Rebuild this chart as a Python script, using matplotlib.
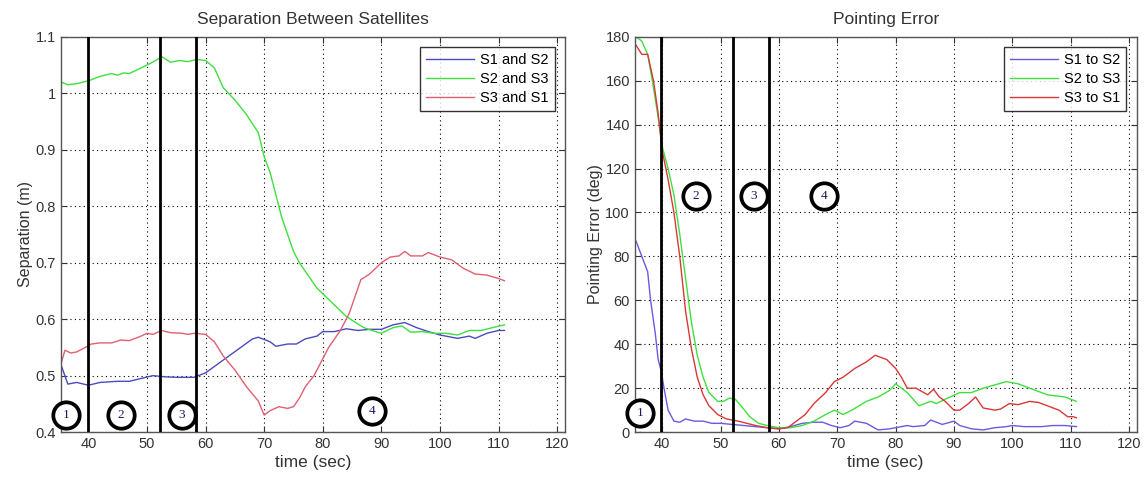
import matplotlib
matplotlib.use("Agg")
import matplotlib.pyplot as plt
import numpy as np

plt.rcParams['font.family'] = ['Liberation Sans', 'DejaVu Sans']

# ---- Separation between satellites (m) ----
sep_t12 = [35.3, 36.5, 38, 40, 42, 45, 47, 49, 51, 53, 55, 58, 60, 62, 64, 66, 68, 69, 71, 72,
           74, 75.5, 77, 79, 80, 82, 84, 86, 88, 90, 92, 94, 96, 98, 100, 103, 105, 106, 108, 110, 111]
sep_12 = [0.52, 0.485, 0.488, 0.483, 0.488, 0.49, 0.49, 0.495, 0.50, 0.498, 0.497, 0.497, 0.505,
          0.52, 0.535, 0.55, 0.565, 0.568, 0.56, 0.552, 0.556, 0.556, 0.565, 0.57, 0.578, 0.578,
          0.583, 0.58, 0.582, 0.582, 0.59, 0.594, 0.585, 0.578, 0.572, 0.566, 0.57, 0.566, 0.575,
          0.58, 0.58]

sep_t23 = [35.3, 36.5, 38, 40, 42, 44, 45, 46, 47, 48, 50, 51.5, 52.5, 54, 55.5, 57, 58.5, 60,
           61.5, 63, 65, 67, 69, 70, 71, 72, 73, 74, 75, 76, 77, 78, 79, 80, 82, 84, 85, 87, 89,
           90, 92, 93.5, 95, 97, 99, 101, 103, 105, 107, 109, 111]
sep_23 = [1.02, 1.015, 1.017, 1.022, 1.03, 1.035, 1.032, 1.036, 1.035, 1.04, 1.05, 1.058, 1.065,
          1.055, 1.058, 1.056, 1.06, 1.058, 1.045, 1.01, 0.988, 0.962, 0.93, 0.888, 0.86, 0.82,
          0.78, 0.75, 0.72, 0.70, 0.685, 0.67, 0.655, 0.645, 0.625, 0.605, 0.598, 0.585, 0.578,
          0.575, 0.585, 0.588, 0.577, 0.578, 0.575, 0.575, 0.572, 0.58, 0.58, 0.585, 0.59]

sep_t31 = [35.3, 36, 37, 38, 39.5, 40.5, 42, 44, 45.5, 47, 49, 50, 51, 52.5, 54, 56, 57, 58, 60,
           61.5, 63, 65, 67, 69, 70, 71, 72.5, 74, 75, 76, 77, 78.5, 80, 81, 83, 84.5, 85.5, 86.5,
           88, 89, 90, 91.5, 93, 94, 95, 97, 98, 100, 102, 104, 106, 108, 110, 111]
sep_31 = [0.52, 0.545, 0.54, 0.542, 0.55, 0.556, 0.558, 0.558, 0.563, 0.562, 0.57, 0.575, 0.573,
          0.58, 0.576, 0.575, 0.573, 0.575, 0.573, 0.56, 0.535, 0.51, 0.48, 0.455, 0.43, 0.438,
          0.445, 0.442, 0.445, 0.46, 0.48, 0.50, 0.53, 0.55, 0.58, 0.61, 0.64, 0.67, 0.68, 0.69,
          0.70, 0.71, 0.712, 0.72, 0.712, 0.712, 0.718, 0.71, 0.705, 0.69, 0.68, 0.678, 0.672,
          0.668]

# ---- Pointing error (deg) ----
pe_t12 = [35.5, 36.5, 37.5, 38, 38.8, 39.3, 39.8, 40.3, 41, 42, 43, 44, 45.5, 47, 48.5, 50, 52,
          54, 56, 58, 60, 62, 64, 66, 67.5, 69, 70.5, 72, 73, 75, 77, 79, 81, 82, 83, 85, 86, 88,
          90, 91, 93, 95, 97, 99, 100, 102, 105, 107, 109, 111]
pe_12 = [87, 80, 73, 60, 45, 33, 28, 20, 10, 5, 4.5, 6, 5, 5, 4, 4, 3.5, 3, 2.5, 2, 1.5, 2.5, 4,
         4.5, 4.5, 3, 2, 3, 5, 4, 1, 1.5, 2.5, 3, 2.5, 3, 5.5, 3.5, 5, 3, 1.5, 1, 2, 2.5, 3, 2.5,
         2.5, 3, 3, 2.5]

pe_t23 = [35.5, 36.5, 37.5, 38.3, 39.2, 40, 41, 42, 43, 44, 45, 46, 47, 48, 49.5, 50.5, 51.5,
          52.5, 53.5, 55, 56.5, 58, 60, 62, 64, 66, 68, 69.5, 71, 72.5, 75, 77, 79, 80, 82, 84,
          86, 87, 88.5, 91, 93, 95, 97, 99, 101, 104, 106, 109, 111]
pe_23 = [180, 178, 172, 160, 145, 130, 120, 108, 90, 70, 50, 35, 25, 18, 14, 14, 15.5, 15, 12, 7,
         4, 3, 2, 2, 3, 5, 8, 10, 8, 10, 14, 16, 19, 22, 18, 12, 14, 13, 15, 18, 18, 20, 21.5,
         23, 22, 19, 17, 16, 14]

pe_t31 = [35.3, 36.5, 37.5, 38.5, 39.3, 40, 41, 42, 43, 44, 45, 46, 47, 48, 49.5, 51, 53, 54.5,
          56, 58, 60, 61.5, 63, 64.5, 66, 68, 69.5, 71, 73, 75, 76.5, 78.5, 80, 81, 82, 83.5,
          85.5, 86.5, 87.5, 88.5, 90, 91, 92.5, 93.7, 95, 97, 98, 99.5, 101, 103, 104.5, 106.5,
          108, 109.5, 110.5, 111]
pe_31 = [177, 172, 172, 160, 145, 128, 115, 100, 80, 55, 38, 25, 17, 12, 8, 6, 5, 4, 3, 2, 1.5,
         2, 5, 8, 13, 18, 23, 25, 29, 32, 35, 33, 29, 25, 20, 20, 17, 19.5, 16, 14, 10, 10, 13,
         16, 11, 10, 10.5, 13, 12.5, 14, 13.5, 11.5, 10, 7, 7, 6.5]

# Phase boundaries and phase markers
phase_lines_sep = [40, 52.3, 58.4]
phase_lines_pe = [39.7, 52.2, 58.3]
phase_labels = ['1', '2', '3', '4']
phase_x_sep = [36.2, 45.6, 55.9, 88.4]
phase_y_sep = [0.430, 0.430, 0.430, 0.437]
phase_x_pe = [36.2, 45.8, 55.7, 67.7]
phase_y_pe = [8.7, 107.3, 107.3, 107.3]

xticks = [40, 50, 60, 70, 80, 90, 100, 110, 120]

fig = plt.figure(figsize=(11.48, 4.78), dpi=100)
ax1 = fig.add_axes([0.053, 0.096, 0.439, 0.827])
ax2 = fig.add_axes([0.553, 0.096, 0.437, 0.827])

c_blue1, c_green1, c_red1 = '#4a4ac0', '#3ee03e', '#e06070'
c_blue2, c_green2, c_red2 = '#6a5ae0', '#3ee03e', '#d83838'
txt = '#333333'


def style_axes(ax):
    ax.set_xlim(35.3, 121.3)
    ax.set_xticks(xticks)
    ax.grid(True, color='black', linestyle=(0, (1, 3)), linewidth=0.8)
    ax.tick_params(direction='in', top=True, right=True, labelsize=10.5, length=4,
                   colors=txt, labelcolor=txt)
    for s in ax.spines.values():
        s.set_color('#555555')
        s.set_linewidth(1.0)


def phase_marks(ax, xs, ys):
    for x, y, lab in zip(xs, ys, phase_labels):
        ax.plot([x], [y], marker='o', ms=19, mfc='white', mec='black', mew=2.7,
                zorder=6, clip_on=False)
        ax.text(x, y, lab, ha='center', va='center', fontsize=9.5, color='#1a1a5a',
                family=['Liberation Serif', 'DejaVu Serif'], zorder=7)


def finish(ax, title, ylabel):
    ax.set_title(title, fontsize=12.5, color=txt, pad=9)
    ax.set_xlabel('time (sec)', fontsize=12.5, color=txt, labelpad=3)
    ax.set_ylabel(ylabel, fontsize=11.5, color=txt, labelpad=2)
    leg = ax.legend(loc='upper right', fontsize=10.5, handlelength=3.3, frameon=True,
                    fancybox=False, edgecolor='black', borderaxespad=0.7,
                    labelspacing=0.35, handletextpad=0.4)
    leg.get_frame().set_linewidth(1.0)
    leg.set_zorder(8)


# Left: separation
ax1.plot(sep_t12, sep_12, color=c_blue1, lw=1.0, label='S1 and S2')
ax1.plot(sep_t23, sep_23, color=c_green1, lw=1.0, label='S2 and S3')
ax1.plot(sep_t31, sep_31, color=c_red1, lw=1.0, label='S3 and S1')
for xv in phase_lines_sep:
    ax1.axvline(xv, color='black', lw=2.0, zorder=5)
ax1.set_ylim(0.4, 1.1)
ax1.set_yticks([0.4, 0.5, 0.6, 0.7, 0.8, 0.9, 1.0, 1.1])
ax1.set_yticklabels(['0.4', '0.5', '0.6', '0.7', '0.8', '0.9', '1', '1.1'])
style_axes(ax1)
finish(ax1, 'Separation Between Satellites', 'Separation (m)')
phase_marks(ax1, phase_x_sep, phase_y_sep)

# Right: pointing error
ax2.plot(pe_t12, pe_12, color=c_blue2, lw=1.0, label='S1 to S2')
ax2.plot(pe_t23, pe_23, color=c_green2, lw=1.0, label='S2 to S3')
ax2.plot(pe_t31, pe_31, color=c_red2, lw=1.0, label='S3 to S1')
for xv in phase_lines_pe:
    ax2.axvline(xv, color='black', lw=2.0, zorder=5)
ax2.set_ylim(0, 180)
ax2.set_yticks(np.arange(0, 181, 20))
style_axes(ax2)
finish(ax2, 'Pointing Error', 'Pointing Error (deg)')
phase_marks(ax2, phase_x_pe, phase_y_pe)

fig.savefig('out.png', dpi=100)
